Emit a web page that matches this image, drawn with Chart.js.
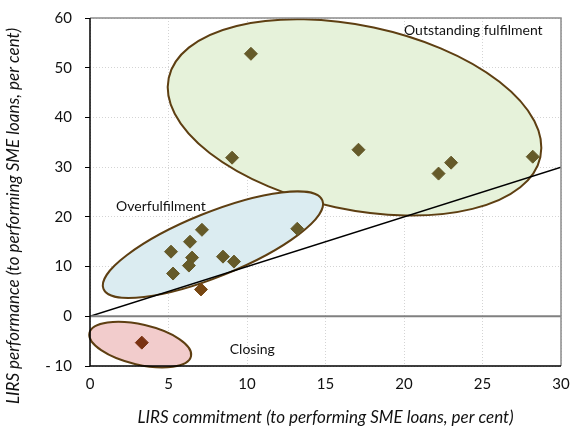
<!DOCTYPE html>
<html>
<head>
<meta charset="utf-8">
<script src="https://cdn.jsdelivr.net/npm/chart.js@4/dist/chart.umd.min.js"></script>
<style>
  html, body { margin: 0; padding: 0; background: #fff; }
  #wrap { width: 570px; height: 428px; }
</style>
</head>
<body>
<div id="wrap"><canvas id="lirsChart" width="570" height="428"></canvas></div>
<script>
// banks above the 45° line (commitment vs performance)
const aboveX = [10.25, 9.05, 17.1, 22.2, 23.0, 28.2, 13.2, 7.13, 6.37, 5.16, 6.5, 6.3, 8.47, 9.17, 5.29];
const aboveY = [52.8, 31.9, 33.5, 28.7, 30.9, 32.1, 17.6, 17.4, 15.0, 13.0, 11.8, 10.2, 12.0, 11.0, 8.6];
// below the line, and the one closing bank
const belowX = [7.07];
const belowY = [5.4];
const closingX = [3.3];
const closingY = [-5.3];
// reference lines
const diagX = [0, 30];
const diagY = [0, 30];
const zeroX = [0, 30];
const zeroY = [0, 0];

const xTicks = [0, 5, 10, 15, 20, 25, 30];
const yTicks = [-10, 0, 10, 20, 30, 40, 50, 60];

const yTitle = "LIRS performance (to performing SME loans, per cent)";
const xTitle = "LIRS commitment (to performing SME loans, per cent)";

const toPts = (xs, ys) => xs.map((x, i) => ({ x: x, y: ys[i] }));

// group ellipses: centre in data units, semi-axes in x-units, tilt in degrees
const groups = [
    { cx: 16.85, cy: 40.0, a: 12.1, b: 5.85, rot: 12, fill: "#e6f2da", label: "Outstanding fulfilment", lx: 20.0, ly: 57.5 },
    { cx: 7.83, cy: 14.4, a: 7.52, b: 2.04, rot: -22, fill: "#dbecf1", label: "Overfulfilment", lx: 1.66, ly: 22.0 },
    { cx: 3.2, cy: -5.7, a: 3.32, b: 1.28, rot: 13, fill: "#f2cccc", label: "Closing", lx: 8.9, ly: -6.7 }
];

const ellipsePlugin = {
    id: "ellipses",
    beforeDatasetsDraw(chart) {
        const c = chart.ctx, xs = chart.scales.x, ys = chart.scales.y;
        const pxPerUnit = xs.getPixelForValue(1) - xs.getPixelForValue(0);
        groups.forEach(g => {
            c.save();
            c.beginPath();
            c.ellipse(xs.getPixelForValue(g.cx), ys.getPixelForValue(g.cy),
                g.a * pxPerUnit, g.b * pxPerUnit, g.rot * Math.PI / 180, 0, Math.PI * 2);
            c.fillStyle = g.fill;
            c.fill();
            c.lineWidth = 2;
            c.strokeStyle = "#5e3f12";
            c.stroke();
            c.restore();
        });
        groups.forEach(g => {
            c.save();
            c.font = "14px Lato";
            c.fillStyle = "#111";
            c.textBaseline = "middle";
            c.fillText(g.label, xs.getPixelForValue(g.lx), ys.getPixelForValue(g.ly));
            c.restore();
        });
    },
    afterDraw(chart) {
        const c = chart.ctx, a = chart.chartArea;
        c.save();
        c.strokeStyle = "#8c8c8c";
        c.lineWidth = 1.5;
        c.beginPath();
        c.moveTo(a.left, a.top);
        c.lineTo(a.right, a.top);
        c.lineTo(a.right, a.bottom);
        c.stroke();
        c.strokeStyle = "#000";
        c.beginPath();
        c.moveTo(a.left, a.top);
        c.lineTo(a.left, a.bottom);
        c.lineTo(a.right, a.bottom);
        c.stroke();
        // y-axis title, centred on the whole chart height like the original
        c.translate(14, chart.height / 2 + 2);
        c.rotate(-Math.PI / 2);
        c.font = "italic 17px Lato";
        c.fillStyle = "#111";
        c.textAlign = "center";
        c.textBaseline = "middle";
        c.fillText(yTitle, 0, 0);
        c.restore();
    }
};

new Chart(document.getElementById("lirsChart").getContext("2d"), {
    type: "scatter",
    data: {
        datasets: [
            {
                label: "zero",
                type: "line",
                data: toPts(zeroX, zeroY),
                borderColor: "#808080",
                borderWidth: 2,
                pointRadius: 0
            },
            {
                label: "45 degree",
                type: "line",
                data: toPts(diagX, diagY),
                borderColor: "#000",
                borderWidth: 1.5,
                pointRadius: 0
            },
            {
                label: "above",
                data: toPts(aboveX, aboveY),
                pointStyle: "rectRot",
                pointRadius: 6.5,
                backgroundColor: "#655a29",
                borderColor: "#655a29",
                borderWidth: 1
            },
            {
                label: "below",
                data: toPts(belowX, belowY),
                pointStyle: "rectRot",
                pointRadius: 6.5,
                backgroundColor: "#774712",
                borderColor: "#774712",
                borderWidth: 1
            },
            {
                label: "closing",
                data: toPts(closingX, closingY),
                pointStyle: "rectRot",
                pointRadius: 6.5,
                backgroundColor: "#7a3212",
                borderColor: "#7a3212",
                borderWidth: 1
            }
        ]
    },
    options: {
        responsive: false,
        animation: false,
        layout: { padding: { left: 0, top: 18, right: 9, bottom: 0 } },
        plugins: {
            legend: { display: false },
            tooltip: { enabled: false }
        },
        scales: {
            x: {
                type: "linear",
                min: 0,
                max: 30,
                afterBuildTicks: s => { s.ticks = xTicks.map(v => ({ value: v })); },
                afterFit: s => { s.height = 62; s.paddingLeft = 0; s.paddingRight = 0; },
                ticks: { padding: 9, color: "#111", font: { family: "Lato", size: 15 } },
                grid: { color: "#d4d4d4", drawTicks: false },
                border: { display: false, dash: [1, 2] },
                title: {
                    display: true,
                    text: xTitle,
                    color: "#111",
                    font: { family: "Lato", size: 17, style: "italic" },
                    padding: { top: 0, bottom: 0 }
                }
            },
            y: {
                type: "linear",
                min: -10,
                max: 60,
                afterBuildTicks: s => { s.ticks = yTicks.map(v => ({ value: v })); },
                afterFit: s => { s.width = 90; s.paddingTop = 0; s.paddingBottom = 0; },
                ticks: {
                    padding: 13,
                    color: "#111",
                    font: { family: "Lato", size: 15 },
                    callback: v => v < 0 ? "- " + Math.abs(v) : String(v)
                },
                grid: { color: "#d4d4d4", tickColor: "#000", tickLength: 5, tickBorderDash: [] },
                border: { display: false, dash: [1, 2] }
            }
        }
    },
    plugins: [ellipsePlugin]
});
</script>
</body>
</html>
